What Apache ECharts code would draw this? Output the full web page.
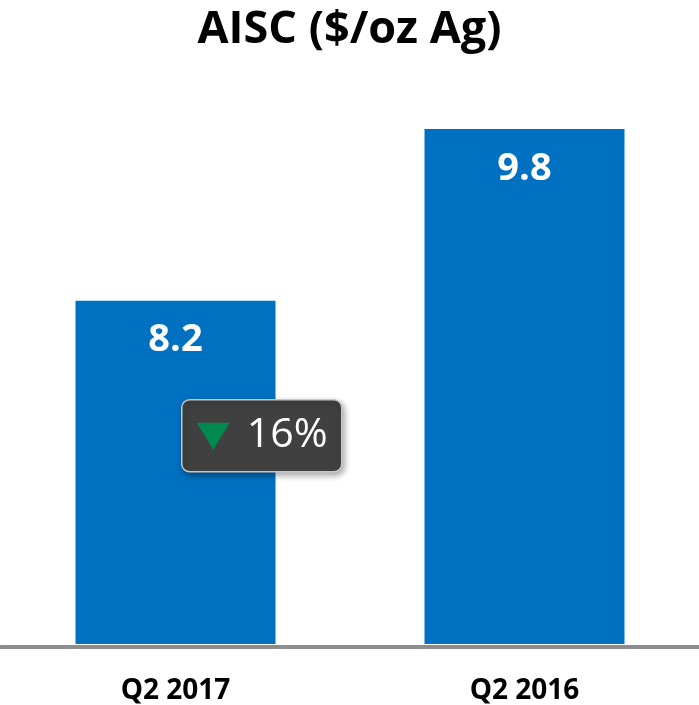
<!DOCTYPE html>
<html>
<head>
<meta charset="utf-8">
<script src="https://cdn.jsdelivr.net/npm/echarts@6/dist/echarts.min.js"></script>
<style>
  html, body { margin: 0; padding: 0; background: #fff; }
  #chart { width: 699px; height: 705px; }
</style>
</head>
<body>
<div id="chart"></div>
<script>
// 数据
var categories = ['Q2 2017', 'Q2 2016'];
var aiscValues = [8.2, 9.8];
var titleText = 'AISC ($/oz Ag)';

// 变化百分比 (从数据计算)
var changePct = Math.round((aiscValues[1] - aiscValues[0]) / aiscValues[1] * 100);

var chart = echarts.init(document.getElementById('chart'));
var font = '"Open Sans", "Noto Sans", sans-serif';

option = {
    animation: false,
    title: {
        text: titleText,
        left: 'center',
        top: 3,
        textStyle: {
            color: '#000',
            fontFamily: font,
            fontSize: 45,
            fontWeight: 'bold'
        }
    },
    grid: {
        left: 1,
        width: 700,
        top: 107.5,
        bottom: 60
    },
    xAxis: {
        type: 'category',
        data: categories,
        offset: 3,
        axisTick: { show: false },
        axisLine: {
            lineStyle: { color: '#8c8c8c', width: 4 }
        },
        axisLabel: {
            margin: 30,
            color: '#000',
            fontFamily: font,
            fontSize: 28,
            fontWeight: 'bold'
        }
    },
    yAxis: {
        type: 'value',
        min: 5,
        max: 10,
        show: false,
        splitLine: { show: false }
    },
    series: [{
        type: 'bar',
        data: aiscValues,
        barWidth: 200,
        itemStyle: { color: '#0070c0' },
        label: {
            show: true,
            position: 'insideTop',
            distance: 21,
            color: '#fff',
            fontFamily: font,
            fontSize: 38,
            fontWeight: 'bold',
            formatter: function (p) { return p.value.toFixed(1); }
        }
    }],
    // 下降标注框
    graphic: [{
        type: 'group',
        left: 181,
        top: 399,
        z: 100,
        children: [{
            type: 'rect',
            z: 100,
            shape: { x: 0, y: 0, width: 160, height: 72, r: 8 },
            style: {
                fill: '#404040',
                stroke: '#c8c8c8',
                lineWidth: 1.5,
                shadowBlur: 6,
                shadowOffsetX: 2,
                shadowOffsetY: 3,
                shadowColor: 'rgba(0,0,0,0.35)'
            }
        }, {
            type: 'polygon',
            z: 101,
            shape: { points: [[15, 23], [48, 23], [31.5, 50]] },
            style: { fill: '#008a50' }
        }, {
            type: 'text',
            z: 101,
            x: 65,
            y: 36,
            style: {
                text: changePct + '%',
                fill: '#fff',
                font: '41px ' + font,
                verticalAlign: 'middle'
            }
        }]
    }]
};
chart.setOption(option);
</script>
</body>
</html>
